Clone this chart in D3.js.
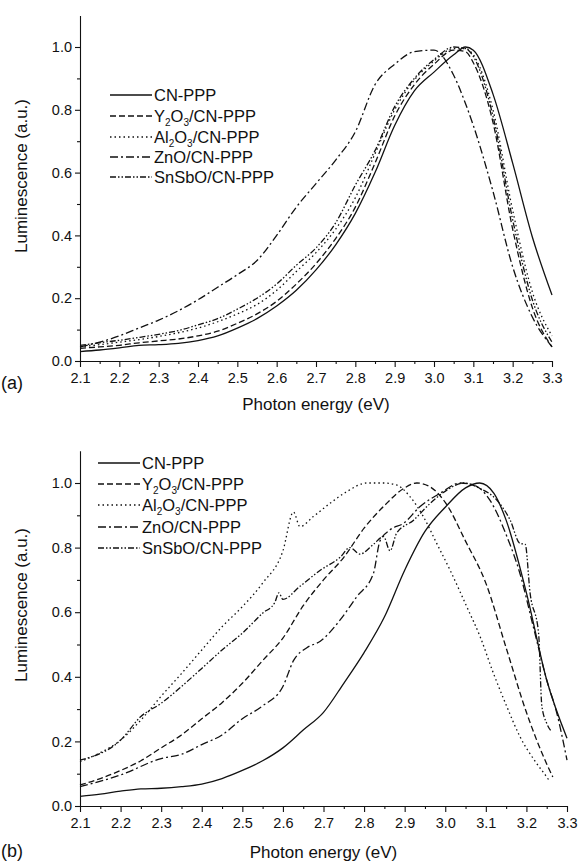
<!DOCTYPE html>
<html><head><meta charset="utf-8">
<script src="https://cdn.jsdelivr.net/npm/d3@7"></script>
<style>
body{margin:0;background:#fff;}
svg{display:block;font-family:"Liberation Sans",Arial,sans-serif;}
</style></head>
<body>
<svg id="c" width="578" height="861"></svg>
<script>
// ---------- data: panel (a) ----------
const energyA = [2.10,2.15,2.20,2.25,2.30,2.35,2.40,2.45,2.50,2.55,2.60,2.65,2.70,2.75,2.80,2.85,2.90,2.95,3.00,3.05,3.08,3.10,3.15,3.20,3.25,3.30];
const cnA     = [0.030,0.035,0.042,0.050,0.052,0.056,0.065,0.080,0.105,0.135,0.175,0.225,0.290,0.370,0.470,0.600,0.750,0.860,0.920,0.975,1.000,0.990,0.850,0.630,0.395,0.210];
const y2o3A   = [0.040,0.045,0.050,0.058,0.064,0.070,0.080,0.095,0.120,0.150,0.190,0.245,0.310,0.390,0.490,0.630,0.780,0.880,0.945,0.990,0.985,0.950,0.760,0.420,0.170,0.045];
const al2o3A  = [0.045,0.052,0.060,0.068,0.078,0.090,0.105,0.125,0.150,0.180,0.225,0.285,0.345,0.420,0.520,0.660,0.800,0.895,0.955,0.995,0.995,0.975,0.800,0.480,0.220,0.080];
const znoA    = [0.045,0.060,0.080,0.105,0.130,0.160,0.195,0.235,0.275,0.320,0.400,0.490,0.565,0.640,0.730,0.880,0.945,0.985,0.990,0.910,0.820,0.750,0.540,0.300,0.140,0.045];
const snsboA  = [0.050,0.058,0.066,0.075,0.085,0.097,0.115,0.135,0.165,0.200,0.245,0.305,0.360,0.440,0.560,0.670,0.810,0.900,0.960,1.000,0.995,0.970,0.780,0.450,0.195,0.060];

// ---------- data: panel (b) ----------
const cnBx    = [2.10,2.15,2.20,2.25,2.30,2.35,2.40,2.45,2.50,2.55,2.60,2.65,2.70,2.75,2.80,2.85,2.90,2.95,3.00,3.05,3.085,3.12,3.15,3.20,3.25,3.30];
const cnBy    = [0.030,0.037,0.046,0.053,0.055,0.060,0.068,0.085,0.110,0.140,0.180,0.235,0.290,0.380,0.475,0.585,0.730,0.850,0.925,0.985,1.000,0.968,0.885,0.660,0.390,0.210];
const y2o3Bx  = [2.10,2.15,2.20,2.25,2.30,2.35,2.40,2.45,2.50,2.55,2.60,2.65,2.70,2.75,2.80,2.85,2.90,2.93,2.96,3.00,3.05,3.10,3.15,3.20,3.25,3.265];
const y2o3By  = [0.065,0.085,0.110,0.140,0.180,0.220,0.270,0.320,0.380,0.450,0.520,0.620,0.700,0.770,0.860,0.930,0.985,1.000,0.990,0.940,0.820,0.690,0.490,0.290,0.130,0.090];
const al2o3Bx = [2.10,2.15,2.20,2.25,2.30,2.35,2.40,2.45,2.50,2.55,2.60,2.626,2.642,2.675,2.716,2.757,2.807,2.848,2.88,2.913,2.946,2.979,3.012,3.053,3.086,3.119,3.152,3.184,3.225,3.25,3.258];
const al2o3By = [0.137,0.165,0.204,0.266,0.340,0.410,0.483,0.555,0.617,0.690,0.790,0.910,0.865,0.896,0.937,0.973,1.000,1.000,0.994,0.958,0.896,0.813,0.730,0.617,0.524,0.410,0.307,0.215,0.132,0.090,0.075];
const znoBx   = [2.10,2.20,2.30,2.35,2.40,2.45,2.50,2.55,2.60,2.626,2.659,2.692,2.741,2.782,2.823,2.839,2.864,2.897,2.938,2.987,3.037,3.07,3.11,3.152,3.184,3.217,3.25,3.275,3.30];
const znoBy   = [0.060,0.096,0.147,0.160,0.190,0.220,0.270,0.310,0.370,0.450,0.490,0.510,0.576,0.648,0.720,0.820,0.855,0.875,0.927,0.968,1.000,0.994,0.947,0.834,0.720,0.555,0.390,0.287,0.142];
const snsboBx = [2.10,2.20,2.25,2.30,2.35,2.40,2.45,2.50,2.55,2.58,2.59,2.60,2.642,2.692,2.741,2.765,2.79,2.823,2.848,2.864,2.88,2.922,2.963,3.004,3.045,3.086,3.127,3.16,3.184,3.197,3.209,3.23,3.238,3.25,3.262];
const snsboBy = [0.142,0.204,0.277,0.318,0.370,0.426,0.483,0.535,0.597,0.630,0.660,0.640,0.680,0.730,0.770,0.800,0.780,0.810,0.834,0.790,0.844,0.885,0.937,0.978,1.000,0.983,0.947,0.885,0.813,0.810,0.660,0.535,0.310,0.256,0.230];

const xTicks = [2.1,2.2,2.3,2.4,2.5,2.6,2.7,2.8,2.9,3.0,3.1,3.2,3.3];
const yTicks = [0.0,0.2,0.4,0.6,0.8,1.0];
const seriesNames = ["CN-PPP","Y2O3/CN-PPP","Al2O3/CN-PPP","ZnO/CN-PPP","SnSbO/CN-PPP"];
const dashes = [null,"6,3","1.5,3","8,3,2,3","6,2,1.5,2,1.5,2"];

const svg = d3.select("#c");

function zip(xs, ys){ return xs.map((x,i)=>[x, ys[i]]); }

function panel(opt){
  const x = d3.scaleLinear().domain([2.1,3.3]).range([opt.x0,opt.x1]);
  const y = d3.scaleLinear().domain([0,1.1]).range([opt.yb, opt.yb-(opt.yb-opt.y1)*1.1]);
  const g = svg.append("g");
  // axes
  const xa = g.append("g").attr("transform",`translate(0,${opt.yb})`)
    .call(d3.axisBottom(x).tickValues(xTicks).tickFormat(d3.format(".1f")).tickSize(6).tickSizeOuter(0));
  g.append("g").attr("transform",`translate(0,${opt.yb})`)
    .call(d3.axisBottom(x).tickValues(d3.range(2.15,3.3,0.1)).tickFormat("").tickSize(3).tickSizeOuter(0))
    .select(".domain").remove();
  const ya = g.append("g").attr("transform",`translate(${opt.x0},0)`)
    .call(d3.axisLeft(y).tickValues(yTicks).tickFormat(d3.format(".1f")).tickSize(5).tickSizeOuter(0));
  g.append("g").attr("transform",`translate(${opt.x0},0)`)
    .call(d3.axisLeft(y).tickValues([0.1,0.3,0.5,0.7,0.9]).tickFormat("").tickSize(3).tickSizeOuter(0))
    .select(".domain").remove();
  g.selectAll(".tick text").attr("font-size",14.5).attr("font-family","Liberation Sans, Arial, sans-serif").attr("fill","#111");
  xa.selectAll(".tick text").attr("dy","0.9em");
  g.selectAll(".domain,.tick line").attr("stroke","#111").attr("stroke-width",1.1);
  // axis titles
  g.append("text").attr("x",(opt.x0+opt.x1)/2).attr("y",opt.yb+opt.titleOff).attr("text-anchor","middle")
    .attr("font-size",17).attr("fill","#111").text("Photon energy (eV)");
  g.append("text").attr("transform",`translate(27,${opt.ylab}) rotate(-90)`).attr("text-anchor","middle")
    .attr("font-size",17).attr("fill","#111").text("Luminescence (a.u.)");
  g.append("text").attr("x",1).attr("y",opt.panelY).attr("font-size",18).attr("fill","#111").text(opt.label);
  // lines
  const line = d3.line().x(d=>x(d[0])).y(d=>y(d[1])).curve(d3.curveMonotoneX);
  opt.data.forEach((d,i)=>{
    g.append("path").datum(d).attr("d",line).attr("fill","none").attr("stroke","#111")
      .attr("stroke-width",1.3).attr("stroke-dasharray",dashes[i]);
  });
  // legend
  seriesNames.forEach((n,i)=>{
    const yy = opt.legY[i];
    g.append("line").attr("x1",opt.legX).attr("x2",opt.legX+42).attr("y1",yy).attr("y2",yy)
      .attr("stroke","#111").attr("stroke-width",1.3).attr("stroke-dasharray",dashes[i]);
    const t = g.append("text").attr("x",opt.legX+44).attr("y",yy+6).attr("font-size",16.5).attr("fill","#111");
    const m = n.match(/^([A-Za-z]+)2O3(.*)$/);
    if(m){
      t.append("tspan").text(m[1]);
      t.append("tspan").attr("font-size",10).attr("dy",3.5).text("2");
      t.append("tspan").attr("dy",-3.5).text("O");
      t.append("tspan").attr("font-size",10).attr("dy",3.5).text("3");
      t.append("tspan").attr("dy",-3.5).text(m[2]);
    } else t.text(n);
  });
}

panel({x0:80,x1:552,yb:361,y1:47,ylab:176,label:"(a)",panelY:389,titleOff:49,legX:110,legY:[95,116,137,157,177],
  data:[zip(energyA,cnA),zip(energyA,y2o3A),zip(energyA,al2o3A),zip(energyA,znoA),zip(energyA,snsboA)]});
panel({x0:80,x1:567,yb:806,y1:483,ylab:605,label:"(b)",panelY:857,titleOff:52,legX:98,legY:[463,484,505,527,548],
  data:[zip(cnBx,cnBy),zip(y2o3Bx,y2o3By),zip(al2o3Bx,al2o3By),zip(znoBx,znoBy),zip(snsboBx,snsboBy)]});
</script>
</body></html>
